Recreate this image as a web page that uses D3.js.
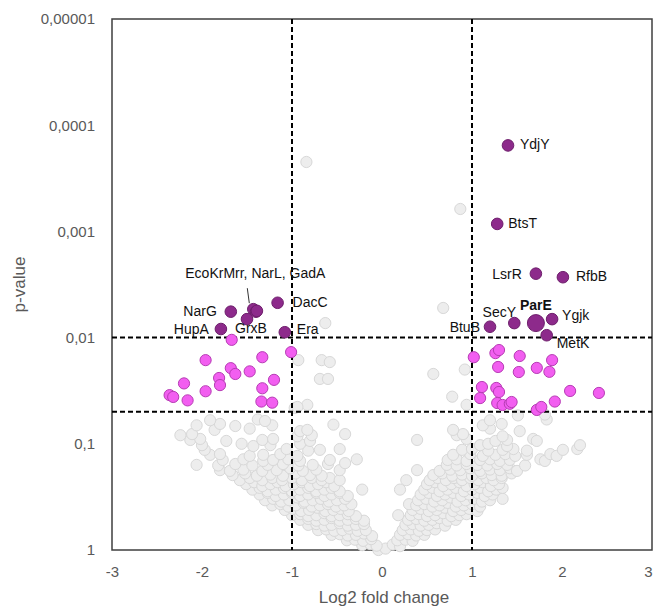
<!DOCTYPE html>
<html><head><meta charset="utf-8">
<script src="https://cdn.jsdelivr.net/npm/d3@7"></script>
<style>html,body{margin:0;padding:0;background:#fff;} svg{display:block;font-family:"Liberation Sans",Arial,sans-serif;}</style>
</head><body><svg id="chart" width="654" height="607"></svg>
<script>
// ---------- DATA ----------
const xTicks = [-3, -2, -1, 0, 1, 2, 3];
const xTickLabels = ["-3", "-2", "-1", "0", "1", "2", "3"];
const yTicks = [1, 0.1, 0.01, 0.001, 0.0001, 0.00001];
const yTickLabels = ["1", "0,1", "0,01", "0,001", "0,0001", "0,00001"];
const fcCutoffs = [-1, 1];
const pCutoffs = [0.01, 0.05];

// labelled hits (dark purple)
const geneNames = ["YdjY","BtsT","LsrR","RfbB","Ygjk","ParE","SecY","BtuB","MetK","NarG","EcoKrMrr","NarL","GadA","GrxB","HupA","DacC","Era"];
const geneFC    = [1.40, 1.28, 1.71, 2.01, 1.89, 1.71, 1.47, 1.20, 1.83, -1.68, -1.43, -1.40, -1.39, -1.50, -1.79, -1.16, -1.08];
const geneP     = [0.000155, 0.00085, 0.0025, 0.0027, 0.0067, 0.0073, 0.0073, 0.0079, 0.0095, 0.0057, 0.0054, 0.0057, 0.0056, 0.0067, 0.0083, 0.0047, 0.0089];

// significant, unlabelled (magenta)
const sigFC = [-1.67,-1.96,-1.33,-1.01,-1.68,-1.63,-1.47,-1.81,-1.80,-2.20,-1.20,-1.96,-2.36,-2.32,-2.16,-1.33,-1.34,-1.22,
               1.02,1.26,1.30,1.53,1.89,1.29,1.52,1.72,1.86,1.11,1.27,1.30,1.09,1.28,1.34,1.42,1.44,1.72,1.77,1.92,2.09,2.41];
const sigP  = [0.0105,0.0163,0.0153,0.0137,0.0194,0.0220,0.0208,0.024,0.028,0.027,0.025,0.032,0.0348,0.0362,0.039,0.030,0.040,0.041,
               0.0153,0.0140,0.0131,0.0149,0.0163,0.0189,0.0211,0.0193,0.021,0.0292,0.0298,0.0325,0.0371,0.0413,0.0431,0.042,0.0404,0.048,0.045,0.040,0.0318,0.0332];

// non-significant background proteins [log2FC, p]
const background = [
[-0.04,1.0],[0.04,0.97],
[-0.22,0.90],[-0.13,0.88],[-0.06,0.91],[0.12,0.89],[0.20,0.92],
[-0.39,0.81],[-0.30,0.80],[-0.21,0.82],[-0.12,0.79],[0.17,0.81],[0.26,0.80],[0.34,0.82],
[-0.56,0.72],[-0.47,0.71],[-0.38,0.73],[-0.29,0.72],[-0.20,0.70],[-0.11,0.74],[0.20,0.72],[0.29,0.71],[0.38,0.73],[0.47,0.72],
[-0.71,0.65],[-0.62,0.64],[-0.53,0.66],[-0.44,0.65],[-0.36,0.63],[-0.27,0.66],[-0.18,0.65],[0.23,0.65],[0.32,0.64],[0.41,0.66],[0.50,0.65],[0.59,0.64],
[-0.82,0.58],[-0.73,0.57],[-0.64,0.59],[-0.56,0.58],[-0.47,0.56],[-0.38,0.59],[-0.29,0.58],[-0.20,0.57],[0.26,0.58],[0.34,0.57],[0.43,0.59],[0.52,0.58],[0.61,0.56],[0.70,0.59],
[-0.91,0.52],[-0.82,0.51],[-0.73,0.53],[-0.64,0.52],[-0.56,0.50],[-0.47,0.53],[-0.38,0.52],[-0.29,0.51],[-0.20,0.53],[0.29,0.52],[0.38,0.51],[0.47,0.53],[0.56,0.52],[0.64,0.50],[0.73,0.53],[0.82,0.52],
[-1.00,0.47],[-0.91,0.46],[-0.82,0.48],[-0.73,0.47],[-0.64,0.45],[-0.56,0.48],[-0.47,0.47],[-0.38,0.46],[-0.29,0.48],[0.18,0.47],[0.32,0.47],[0.41,0.46],[0.50,0.48],[0.59,0.47],[0.68,0.45],[0.77,0.48],[0.86,0.47],[0.94,0.46],
[-1.08,0.42],[-0.99,0.41],[-0.90,0.43],[-0.81,0.42],[-0.72,0.40],[-0.63,0.43],[-0.54,0.42],[-0.46,0.41],[-0.37,0.43],[0.34,0.42],[0.43,0.41],[0.52,0.43],[0.61,0.42],[0.70,0.40],[0.79,0.43],[0.88,0.42],[0.97,0.41],[1.06,0.43],
[-1.22,0.38],[-1.13,0.37],[-1.04,0.39],[-0.96,0.38],[-0.87,0.36],[-0.78,0.39],[-0.69,0.38],[-0.60,0.37],[-0.51,0.39],[-0.42,0.38],[-0.34,0.37],[0.30,0.37],[0.38,0.38],[0.47,0.37],[0.56,0.39],[0.64,0.38],[0.73,0.36],[0.82,0.39],[0.91,0.38],[1.00,0.37],[1.09,0.39],
[-1.30,0.34],[-1.21,0.33],[-1.12,0.35],[-1.03,0.34],[-0.94,0.32],[-0.86,0.35],[-0.77,0.34],[-0.68,0.33],[-0.59,0.35],[-0.50,0.34],[-0.41,0.33],[0.40,0.34],[0.49,0.33],[0.58,0.35],[0.67,0.34],[0.76,0.32],[0.84,0.35],[0.93,0.34],[1.02,0.33],[1.11,0.35],[1.20,0.34],[1.34,0.33],
[-1.36,0.30],[-1.27,0.29],[-1.18,0.31],[-1.09,0.30],[-1.00,0.29],[-0.91,0.31],[-0.82,0.30],[-0.73,0.29],[-0.64,0.31],[-0.56,0.30],[-0.47,0.29],[-0.38,0.31],[0.43,0.30],[0.52,0.29],[0.61,0.31],[0.70,0.30],[0.79,0.29],[0.88,0.31],[0.97,0.30],[1.06,0.29],[1.14,0.31],[1.23,0.30],
[-1.44,0.27],[-1.36,0.26],[-1.27,0.28],[-1.18,0.27],[-1.09,0.26],[-1.00,0.28],[-0.91,0.27],[-0.82,0.26],[-0.73,0.28],[-0.64,0.27],[-0.56,0.26],[-0.47,0.28],[-0.22,0.27],[0.20,0.27],[0.47,0.27],[0.56,0.26],[0.64,0.28],[0.73,0.27],[0.82,0.26],[0.91,0.28],[1.00,0.27],[1.09,0.26],[1.18,0.28],[1.27,0.27],[1.34,0.26],
[-1.51,0.24],[-1.42,0.23],[-1.33,0.25],[-1.24,0.24],[-1.16,0.23],[-1.07,0.25],[-0.98,0.24],[-0.89,0.23],[-0.80,0.25],[-0.71,0.24],[-0.62,0.23],[-0.53,0.25],[0.50,0.24],[0.59,0.23],[0.68,0.25],[0.77,0.24],[0.86,0.23],[0.94,0.25],[1.03,0.24],[1.12,0.23],[1.21,0.25],[1.30,0.24],
[-1.58,0.22],[-1.47,0.21],[-1.33,0.22],[-1.22,0.21],[-1.11,0.22],[-1.00,0.21],[-0.89,0.22],[-0.78,0.21],[-0.67,0.22],[-0.58,0.21],[-0.47,0.22],[0.27,0.22],[0.53,0.22],[0.62,0.21],[0.71,0.22],[0.80,0.21],[0.89,0.22],[0.98,0.21],[1.07,0.22],[1.16,0.21],[1.24,0.22],[1.33,0.21],
[-1.66,0.197],[-1.52,0.19],[-1.39,0.20],[-1.24,0.195],[-1.10,0.20],[-0.96,0.19],[-0.80,0.197],[-0.67,0.20],[0.57,0.197],[0.67,0.19],[0.78,0.20],[0.89,0.195],[1.00,0.20],[1.11,0.19],[1.22,0.197],[1.33,0.20],[1.44,0.19],
[-1.80,0.177],[-1.69,0.18],[-1.54,0.175],[-1.33,0.18],[-1.17,0.177],[-1.02,0.17],[-0.88,0.18],[-0.73,0.175],[-0.47,0.177],[0.39,0.177],[0.64,0.18],[0.76,0.175],[0.87,0.177],[0.98,0.17],[1.09,0.18],[1.20,0.175],[1.31,0.177],[1.42,0.17],[1.50,0.18],
[-2.06,0.158],[-1.82,0.16],[-1.63,0.155],[-1.44,0.16],[-1.27,0.158],[-1.10,0.155],[-0.93,0.16],[-0.77,0.158],[-0.60,0.155],[-0.41,0.152],[0.72,0.158],[0.83,0.16],[0.94,0.155],[1.06,0.158],[1.17,0.16],[1.28,0.155],[1.39,0.158],[1.59,0.16],
[-1.77,0.142],[-1.54,0.14],[-1.32,0.145],[-1.21,0.142],[-1.04,0.14],[-0.91,0.145],[-0.58,0.142],[-0.28,0.14],[0.73,0.142],[0.83,0.14],[0.94,0.145],[1.09,0.142],[1.20,0.14],[1.31,0.145],[1.42,0.142],[1.76,0.14],[1.81,0.145],
[-1.91,0.127],[-1.80,0.125],[-1.47,0.13],[-1.32,0.127],[-1.13,0.125],[-0.94,0.13],[0.79,0.127],[0.98,0.125],[1.12,0.13],[1.26,0.127],[1.37,0.125],[1.48,0.13],[1.61,0.127],[1.87,0.125],[1.94,0.13],
[-1.97,0.114],[-1.06,0.112],[-0.82,0.116],[-0.69,0.114],[-0.47,0.112],[0.89,0.114],[1.00,0.112],[1.18,0.116],[1.34,0.114],[1.46,0.112],[1.61,0.116],[2.01,0.114],[2.17,0.112],
[-2.00,0.103],[-1.56,0.10],[-1.43,0.105],[-1.24,0.103],[-0.91,0.10],[1.09,0.103],[1.18,0.10],[1.39,0.105],[2.20,0.103],
[-2.13,0.092],[-2.02,0.09],[-1.73,0.094],[-1.33,0.092],[-1.21,0.09],[-0.80,0.094],[0.39,0.092],[0.94,0.09],[1.26,0.094],[1.39,0.092],[1.68,0.09],[1.72,0.094],
[-2.24,0.083],[-2.11,0.081],[-0.94,0.085],[-0.78,0.083],[-0.41,0.081],[0.83,0.083],[0.90,0.081],[1.34,0.085],
[-1.86,0.074],[-1.47,0.072],[-0.91,0.076],[-0.83,0.074],[0.79,0.074],[1.20,0.072],[1.53,0.076],
[-2.06,0.067],[-1.80,0.065],[-1.63,0.068],[-1.22,0.067],[-0.54,0.066],[1.12,0.067],[1.33,0.065],
[-1.91,0.060],[-1.38,0.059],[-1.30,0.061],[1.20,0.060],[1.83,0.059],
[1.51,0.054],[1.81,0.053],
[-0.83,0.043],[0.94,0.043],[-0.97,0.046],[0.78,0.036],
[-0.93,0.0163],[-0.67,0.0163],[-0.58,0.0170],[-0.69,0.0245],[-0.60,0.0245],[-0.63,0.0073],[-0.84,0.000222],[0.87,0.000615],[0.68,0.00526],[0.57,0.022],[0.92,0.020],[-0.94,0.045]
];

// ---------- LAYOUT / STYLE ----------
const W = 654, H = 607;
const plot = {left: 112, right: 652, top: 19, bottom: 550};
const labelLayout = {
  YdjY: {anchor: "start", dx: 12, dy: 4},
  BtsT: {anchor: "start", dx: 11, dy: 4},
  LsrR: {anchor: "end", dx: -14, dy: 5},
  RfbB: {anchor: "start", dx: 13, dy: 4},
  SecY: {anchor: "middle", dx: -15, dy: -6},
  ParE: {anchor: "middle", dx: 0, dy: -13, bold: true},
  Ygjk: {anchor: "start", dx: 10, dy: 1},
  BtuB: {anchor: "end", dx: -10, dy: 5},
  MetK: {anchor: "start", dx: 10, dy: 13},
  NarG: {anchor: "end", dx: -14, dy: 4},
  HupA: {anchor: "end", dx: -12, dy: 5},
  GrxB: {anchor: "middle", dx: 4, dy: 14},
  DacC: {anchor: "start", dx: 15, dy: 4},
  Era:  {anchor: "start", dx: 12, dy: 2},
  EcoKrMrr: {anchor: "middle", dx: 2, dy: -31, text: "EcoKrMrr, NarL, GadA", leader: [-6, -21, -4, -6]}
};
const bigGenes = ["ParE"];

const svg = d3.select("#chart");
svg.append("rect").attr("width", W).attr("height", H).attr("fill", "#fff");

const x = d3.scaleLinear().domain([-3, 3]).range([plot.left, plot.right]);
const y = d3.scaleLog().domain([1, 0.00001]).range([plot.bottom, plot.top]);

// frame
svg.append("rect")
  .attr("x", plot.left).attr("y", plot.top)
  .attr("width", plot.right - plot.left).attr("height", plot.bottom - plot.top)
  .attr("fill", "none").attr("stroke", "#3f3f3f").attr("stroke-width", 1.5);

// axes
const xAxis = svg.append("g").attr("transform", `translate(0,${plot.bottom})`)
  .call(d3.axisBottom(x).tickValues(xTicks).tickSize(0).tickPadding(16)
        .tickFormat((d, i) => xTickLabels[i]));
const yAxis = svg.append("g").attr("transform", `translate(${plot.left},0)`)
  .call(d3.axisLeft(y).tickValues(yTicks).tickSize(0).tickPadding(17)
        .tickFormat((d, i) => yTickLabels[i]));
[xAxis, yAxis].forEach(g => {
  g.select(".domain").remove();
  g.selectAll("text").attr("fill", "#595959").style("font-size", "15px")
    .style("font-family", '"Liberation Sans",Arial,sans-serif');
});
// keep the last x tick label inside the page
xAxis.selectAll(".tick text").filter(d => d === 3).attr("text-anchor", "end").attr("dx", "0");

// axis titles
svg.append("text").attr("x", (plot.left + plot.right) / 2 + 2).attr("y", 603)
  .attr("text-anchor", "middle").attr("fill", "#595959").style("font-size", "17px")
  .text("Log2 fold change");
svg.append("text").attr("transform", `translate(19,${(plot.top + plot.bottom) / 2}) rotate(-90)`)
  .attr("text-anchor", "middle").attr("dy", "0.35em").attr("fill", "#595959").style("font-size", "17px")
  .text("p-value");

// background points
svg.append("g").selectAll("circle").data(background).join("circle")
  .attr("cx", d => x(d[0])).attr("cy", d => y(d[1])).attr("r", 5.6)
  .attr("fill", "#ededed").attr("stroke", "#d8d8d8").attr("stroke-width", 1);

// cutoff lines
const cut = svg.append("g").attr("stroke", "#000").attr("stroke-width", 2).attr("stroke-dasharray", "5,3");
cut.selectAll("line.v").data(fcCutoffs).join("line").attr("class", "v")
  .attr("x1", d => x(d)).attr("x2", d => x(d)).attr("y1", plot.top).attr("y2", plot.bottom);
cut.selectAll("line.h").data(pCutoffs).join("line").attr("class", "h")
  .attr("x1", plot.left).attr("x2", plot.right).attr("y1", d => y(d)).attr("y2", d => y(d));

// significant magenta
svg.append("g").selectAll("circle").data(sigFC.map((v, i) => [v, sigP[i]])).join("circle")
  .attr("cx", d => x(d[0])).attr("cy", d => y(d[1])).attr("r", 5.6)
  .attr("fill", "#f25ef0").attr("stroke", "#b63cb4").attr("stroke-width", 1);

// labelled hits
const genes = geneNames.map((n, i) => ({name: n, fc: geneFC[i], p: geneP[i]}));
svg.append("g").selectAll("circle").data(genes).join("circle")
  .attr("cx", d => x(d.fc)).attr("cy", d => y(d.p))
  .attr("r", d => bigGenes.includes(d.name) ? 8.5 : 5.8)
  .attr("fill", "#8d2a8b").attr("stroke", "#6e1f6c").attr("stroke-width", 1);

// labels
const lab = svg.append("g").style("font-size", "14px").attr("fill", "#111");
genes.filter(d => labelLayout[d.name]).forEach(d => {
  const L = labelLayout[d.name];
  const px = x(d.fc), py = y(d.p);
  lab.append("text").attr("x", px + L.dx).attr("y", py + L.dy)
    .attr("text-anchor", L.anchor)
    .style("font-weight", L.bold ? "bold" : "normal")
    .text(L.text || d.name);
  if (L.leader) {
    lab.append("line").attr("x1", px + L.leader[0]).attr("y1", py + L.leader[1])
      .attr("x2", px + L.leader[2]).attr("y2", py + L.leader[3])
      .attr("stroke", "#333").attr("stroke-width", 1);
  }
});
</script></body></html>
